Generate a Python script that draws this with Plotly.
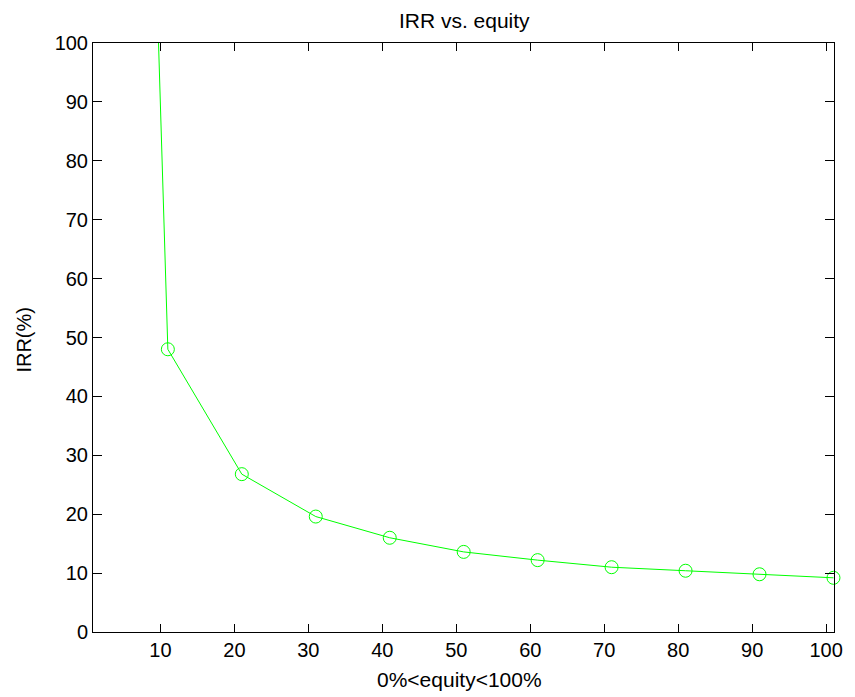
import plotly.graph_objects as go

equity = [1, 11, 21, 31, 41, 51, 61, 71, 81, 91, 101]
irr = [460, 48.0, 26.8, 19.6, 16.0, 13.6, 12.2, 11.0, 10.4, 9.8, 9.2]
x_ticks = [10, 20, 30, 40, 50, 60, 70, 80, 90, 100]
y_ticks = [0, 10, 20, 30, 40, 50, 60, 70, 80, 90, 100]

FONT = "Liberation Sans, Arial, sans-serif"

fig = go.Figure()
fig.add_trace(go.Scatter(
    x=equity, y=irr, mode="lines+markers",
    line=dict(color="#00ff00", width=1),
    marker=dict(symbol="circle-open", size=13, color="#00ff00", line=dict(width=1, color="#00ff00")),
    cliponaxis=False, showlegend=False,
))

axis_common = dict(
    showgrid=False, zeroline=False, showline=True, linecolor="black", linewidth=1,
    mirror="ticks", ticks="inside", tickcolor="black", tickwidth=1,
    tickfont=dict(family=FONT, size=20, color="black"),
)

fig.update_layout(
    width=855, height=697,
    margin=dict(l=93, r=14, t=43, b=65),
    paper_bgcolor="white", plot_bgcolor="white",
    title=dict(text="IRR vs. equity", x=0.543, xanchor="center", y=0.971, yanchor="middle",
               font=dict(family=FONT, size=21, color="black")),
    xaxis=dict(range=[0.88, 101.07], tickvals=x_ticks, ticklen=8, **axis_common),
    yaxis=dict(range=[0, 100], tickvals=y_ticks, ticklen=9, **axis_common),
    annotations=[
        dict(text="0%<equity<100%", xref="paper", yref="paper", x=0.495, y=-0.0806,
             xanchor="center", yanchor="middle", showarrow=False,
             font=dict(family=FONT, size=21, color="black")),
        dict(text="IRR(%)", xref="paper", yref="paper", x=-0.0936, y=0.4958,
             xanchor="center", yanchor="middle", textangle=-90, showarrow=False,
             font=dict(family=FONT, size=20, color="black")),
    ],
)

fig.write_html("out.html")
